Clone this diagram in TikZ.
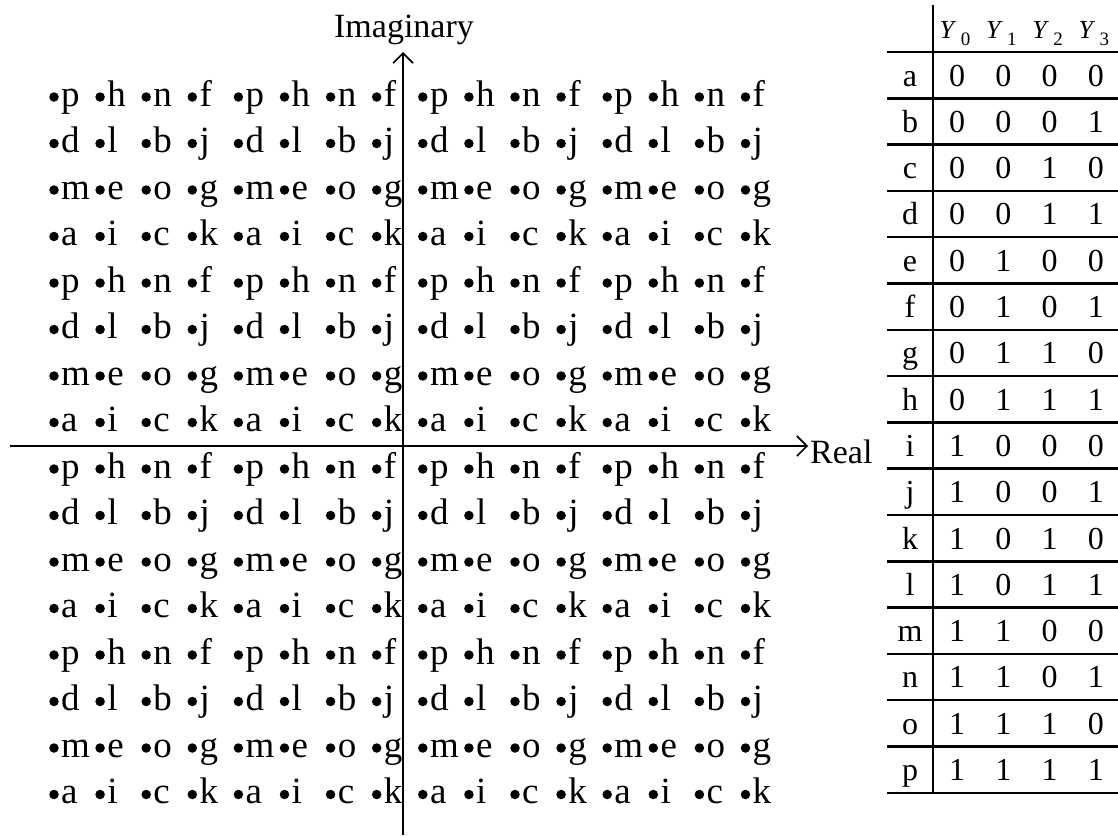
\documentclass[tikz,border=0pt]{standalone}
\usepackage{fontspec}
\setmainfont{Liberation Serif}
\usetikzlibrary{arrows.meta}

\tikzset{
  axis/.style={line width=2pt,-{Straight Barb[length=10pt,width=20pt,line width=1.6pt]}},
  dot/.style={circle,fill,inner sep=0pt,minimum size=9.5pt},
  sym/.style={inner sep=0pt,anchor=base west,font=\fontsize{37}{37}\selectfont},
  lab/.style={inner sep=0pt,font=\fontsize{34}{34}\selectfont},
  cell/.style={inner sep=0pt,anchor=base,font=\fontsize{32}{32}\selectfont},
  head/.style={inner sep=0pt,anchor=base,font=\fontsize{26}{26}\selectfont},
  tabline/.style={line width=2.5pt},
}

\begin{document}
\begin{tikzpicture}[x=1pt,y=-1pt]
  \useasboundingbox (0,0) rectangle (1118,835);
  % constellation points, 4x4 pattern tiled four times each way
  \foreach \letters [count=\t from 0] in {{p,h,n,f},{d,l,b,j},{m,e,o,g},{a,i,c,k}}
    \foreach \b in {0,1,2,3}
      \foreach \lab [count=\u from 0] in \letters
        \foreach \h in {0,1,2,3} {
          \pgfmathtruncatemacro{\r}{4*\b+\t}
          \pgfmathtruncatemacro{\c}{4*\h+\u}
          \node[dot] (d-\r-\c) at ({54+46.1*\c},{97+46.5*\r}) {};
          \node[sym] (s-\r-\c) at ({61+46.1*\c},{106+46.5*\r}) {\lab};
        }
  % axes
  \coordinate (xl) at (10,446);
  \coordinate (xr) at (808,446);
  \coordinate (yb) at (403,835);
  \coordinate (yt) at (403,52);
  \draw[axis] (xl) -- (xr);
  \draw[axis] (yb) -- (yt);
  \node[lab,anchor=base west] (real) at (810,463) {Real};
  \node[lab,anchor=base] (imag) at (404,37) {Imaginary};
  % mapping table
  \coordinate (tt) at (933,5);
  \coordinate (tb) at (933,793);
  \draw[tabline] (tt) -- (tb);
  \foreach \i in {0,...,16}
    \draw[tabline] (887,{52+46.3*\i}) -- (1118,{52+46.3*\i});
  \foreach \k in {0,...,3}
    \node[head] (y\k) at ({955+46.3*\k},38) {\textit{Y}\,\raisebox{-7pt}{\fontsize{19}{19}\selectfont\k}};
  \foreach \lab [count=\i from 0] in {a,...,p} {
    \node[cell] (r\i) at (910,{52+46.3*\i+34}) {\lab};
    \foreach \k in {0,...,3} {
      \pgfmathtruncatemacro{\bit}{mod(floor(\i/2^(3-\k)),2)}
      \node[cell] (v\i-\k) at ({957+46.3*\k},{52+46.3*\i+34}) {\bit};
    }
  }
\end{tikzpicture}
\end{document}
